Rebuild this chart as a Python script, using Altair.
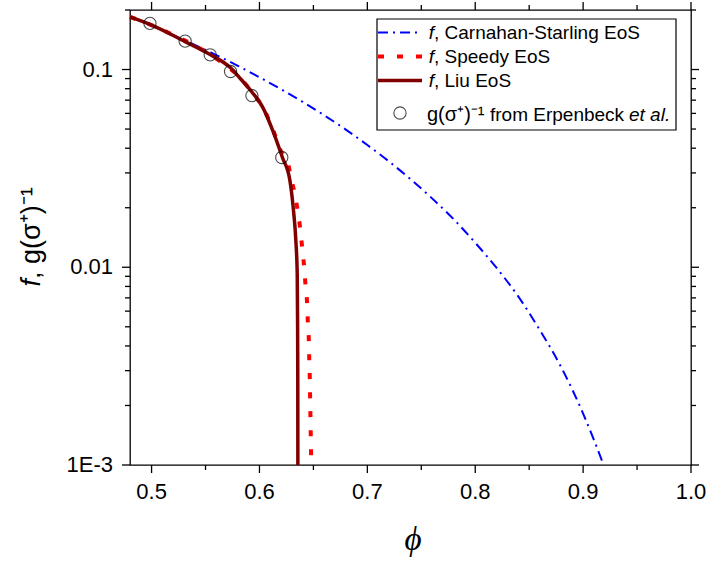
import altair as alt
import pandas as pd

# ---- data ----
phi_cs = [0.48, 0.50, 0.52, 0.54, 0.56, 0.58, 0.60, 0.62, 0.64, 0.66, 0.68, 0.70,
          0.72, 0.74, 0.76, 0.78, 0.80, 0.82, 0.84, 0.86, 0.88, 0.90, 0.91, 0.919]
f_cs = [0.185, 0.1667, 0.1494, 0.1333, 0.1183, 0.1044, 0.0914, 0.0795, 0.0686, 0.0587,
        0.0497, 0.0415, 0.0343, 0.0279, 0.0223, 0.0175, 0.0133, 0.0099, 0.0071, 0.0048,
        0.0031, 0.00182, 0.00134, 0.001]

phi_speedy = [0.48, 0.50, 0.52, 0.54, 0.555, 0.57, 0.583, 0.593, 0.6033, 0.6126, 0.620,
              0.6267, 0.6297, 0.6328, 0.6353, 0.6377, 0.6395, 0.6414, 0.6427, 0.6442,
              0.6449, 0.6458, 0.6462, 0.6467, 0.6470, 0.6473, 0.6476, 0.6479, 0.6481]
f_speedy = [0.1845, 0.1675, 0.1497, 0.1322, 0.1183, 0.1038, 0.0898, 0.0768, 0.0642, 0.0496,
            0.0386, 0.0330, 0.0277, 0.0234, 0.0195, 0.0158, 0.0127, 0.0101, 0.0081, 0.0065,
            0.0052, 0.0042, 0.0033, 0.0027, 0.0021, 0.0017, 0.00135, 0.0011, 0.001]

phi_liu = [0.48, 0.4985, 0.5311, 0.5543, 0.5732, 0.583, 0.593, 0.6033, 0.6126, 0.6213,
           0.6281, 0.6312, 0.6337, 0.6350, 0.6353, 0.6355, 0.6356]
f_liu = [0.1845, 0.1692, 0.1384, 0.1191, 0.1020, 0.0890, 0.0770, 0.0640, 0.0487, 0.0359,
         0.0277, 0.0202, 0.0137, 0.0093, 0.0056, 0.0030, 0.001]

phi_ew = [0.4985, 0.5311, 0.5543, 0.5732, 0.5930, 0.6207]
g_ew = [0.1712, 0.1392, 0.1187, 0.0977, 0.0738, 0.0359]

x_major = [0.5, 0.6, 0.7, 0.8, 0.9, 1.0]
x_labels = ["0.5", "0.6", "0.7", "0.8", "0.9", "1.0"]
x_minor = [0.55, 0.65, 0.75, 0.85, 0.95]
y_major = [0.001, 0.01, 0.1]
y_labels = ["1E-3", "0.01", "0.1"]
y_minor = [0.002, 0.003, 0.004, 0.005, 0.006, 0.007, 0.008, 0.009,
           0.02, 0.03, 0.04, 0.05, 0.06, 0.07, 0.08, 0.09, 0.2]

legend_names = ["Carnahan-Starling EoS", "Speedy EoS", "Liu EoS"]
legend_italic = "f"
legend_last = ["g(σ⁺)⁻¹", "from Erpenbeck", "et al."]
y_title_italic = "f"
y_title_rest = ", g(σ⁺)⁻¹"
x_title = "ϕ"

cs_df = pd.DataFrame({"phi": phi_cs, "f": f_cs})
sp_df = pd.DataFrame({"phi": phi_speedy, "f": f_speedy})
liu_df = pd.DataFrame({"phi": phi_liu, "f": f_liu})
ew_df = pd.DataFrame({"phi": phi_ew, "f": g_ew})

W, H = 561, 455
xs = alt.Scale(domain=[0.48, 1.0], nice=False, zero=False)
ys = alt.Scale(type="log", domain=[0.001, 0.2], nice=False)

FONT = "Liberation Sans"

CS_STYLE = dict(color="#0000ff", strokeWidth=2, strokeDash=[10, 5, 2, 5])
SP_STYLE = dict(color="#ff0000", strokeWidth=4, strokeDash=[6, 13], strokeCap="butt")
LIU_STYLE = dict(color="#800000", strokeWidth=3.5)


def curve(df, **mk):
    return alt.Chart(df).mark_line(interpolate="monotone", **mk).encode(
        x=alt.X("phi:Q", scale=xs, axis=None),
        y=alt.Y("f:Q", scale=ys, axis=None),
    )


layers = [curve(cs_df, **CS_STYLE), curve(sp_df, **SP_STYLE), curve(liu_df, **LIU_STYLE)]
layers.append(
    alt.Chart(ew_df).mark_point(shape="circle", filled=False, color="black",
                                size=150, strokeWidth=1.1).encode(
        x=alt.X("phi:Q", scale=xs, axis=None),
        y=alt.Y("f:Q", scale=ys, axis=None),
    )
)

# tick marks on all four sides (major and minor)
TICK = dict(color="black", strokeWidth=1.3)
for vals, size in [(x_major, 8), (x_minor, 5)]:
    tdf = pd.DataFrame({"v": vals})
    layers.append(alt.Chart(tdf).mark_rule(**TICK).encode(
        x=alt.X("v:Q", scale=xs, axis=None), y=alt.value(H), y2=alt.value(H + size)))
    layers.append(alt.Chart(tdf).mark_rule(**TICK).encode(
        x=alt.X("v:Q", scale=xs, axis=None), y=alt.value(0), y2=alt.value(-size)))
for vals, size in [(y_major, 8), (y_minor, 5)]:
    tdf = pd.DataFrame({"v": vals})
    layers.append(alt.Chart(tdf).mark_rule(**TICK).encode(
        y=alt.Y("v:Q", scale=ys, axis=None), x=alt.value(0), x2=alt.value(-size)))
    layers.append(alt.Chart(tdf).mark_rule(**TICK).encode(
        y=alt.Y("v:Q", scale=ys, axis=None), x=alt.value(W), x2=alt.value(W + size)))

# tick labels: one constant-text layer per label, placed through the scales
for v, t in zip(x_major, x_labels):
    layers.append(
        alt.Chart(pd.DataFrame({"v": [v]})).mark_text(
            text=t, font=FONT, fontSize=22, color="black", align="center",
            baseline="alphabetic").encode(
            x=alt.X("v:Q", scale=xs, axis=None), y=alt.value(H + 34))
    )
for v, t in zip(y_major, y_labels):
    layers.append(
        alt.Chart(pd.DataFrame({"v": [v]})).mark_text(
            text=t, font=FONT, fontSize=22, color="black", align="right",
            baseline="middle").encode(
            y=alt.Y("v:Q", scale=ys, axis=None), x=alt.value(-17))
    )

one = pd.DataFrame({"k": [0]})

# legend box
layers.append(
    alt.Chart(one).mark_rect(fill="white", stroke="black", strokeWidth=1.2).encode(
        x=alt.value(247), x2=alt.value(546), y=alt.value(9), y2=alt.value(120)
    )
)
row_y = [22.5, 46.5, 70.5]
for yv, style in zip(row_y, [CS_STYLE, SP_STYLE, LIU_STYLE]):
    layers.append(
        alt.Chart(one).mark_rule(**style).encode(
            x=alt.value(248), x2=alt.value(292), y=alt.value(yv)
        )
    )
layers.append(
    alt.Chart(one).mark_point(shape="circle", filled=False, color="black", size=150,
                              strokeWidth=1.1).encode(x=alt.value(270), y=alt.value(103))
)
for yv, name in zip(row_y, legend_names):
    layers.append(
        alt.Chart(one).mark_text(text=legend_italic, font=FONT, fontSize=19,
                                 fontStyle="italic", align="right", baseline="middle",
                                 color="black").encode(x=alt.value(304), y=alt.value(yv))
    )
    layers.append(
        alt.Chart(one).mark_text(text=", " + name, font=FONT, fontSize=19,
                                 align="left", baseline="middle",
                                 color="black").encode(x=alt.value(304), y=alt.value(yv))
    )
for xv, txt, sty, fs in zip([297, 360, 499], legend_last, ["normal", "normal", "italic"],
                            [20, 19, 19]):
    layers.append(
        alt.Chart(one).mark_text(text=txt, font=FONT, fontSize=fs, fontStyle=sty,
                                 align="left", baseline="alphabetic",
                                 color="black").encode(x=alt.value(xv), y=alt.value(111))
    )

# axis titles
layers.append(
    alt.Chart(one).mark_text(text=y_title_italic, font=FONT, fontSize=27, fontStyle="italic",
                             angle=270, align="right", baseline="alphabetic",
                             color="black").encode(x=alt.value(-90), y=alt.value(269))
)
layers.append(
    alt.Chart(one).mark_text(text=y_title_rest, font=FONT, fontSize=27,
                             angle=270, align="left", baseline="alphabetic",
                             color="black").encode(x=alt.value(-90), y=alt.value(269))
)
layers.append(
    alt.Chart(one).mark_text(text=x_title, font="Liberation Serif", fontSize=33,
                             fontStyle="italic", align="center", baseline="alphabetic",
                             color="black").encode(x=alt.value(283), y=alt.value(540))
)

chart = (
    alt.layer(*layers)
    .properties(
        width=W,
        height=H,
        autosize=alt.AutoSizeParams(type="none"),
        padding={"left": 130, "top": 10, "right": 17, "bottom": 97},
        background="white",
    )
    .configure_view(stroke="black", strokeWidth=1.3)
)

chart.save("out.html", embed_options={"renderer": "svg", "actions": False})
